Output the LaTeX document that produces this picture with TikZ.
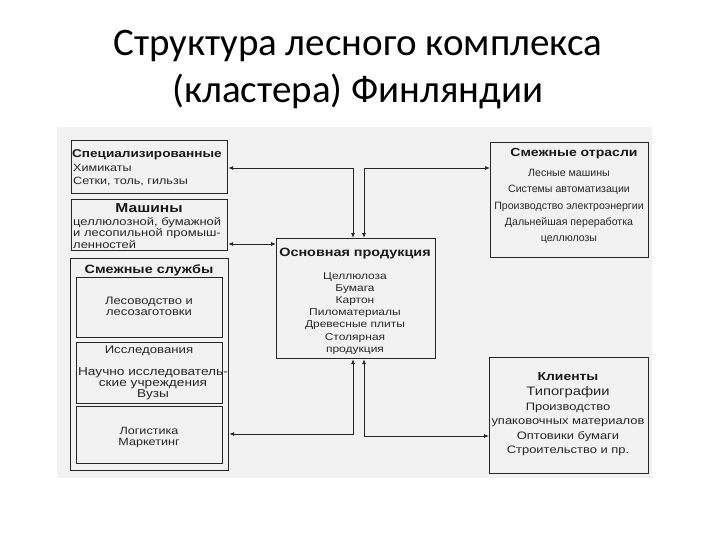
\documentclass[tikz,border=0pt]{standalone}
\usepackage{fontspec}
\setmainfont{Liberation Sans}
\newfontfamily\titlefont{Carlito}
\newfontfamily\scanfont[FakeStretch=1.2]{Liberation Sans}
\usetikzlibrary{arrows.meta}

\begin{document}
\begin{tikzpicture}[x=1pt,y=-1pt,
  box/.style={draw=black!85,line width=1.2pt,inner sep=0pt,anchor=north west},
  txt/.style={inner sep=0pt,text=black!85,align=center,font=\scanfont\fontsize{10.5}{12}\selectfont},
  hd/.style={inner sep=0pt,text=black!90,font=\scanfont\bfseries\fontsize{12}{13}\selectfont},
  link/.style={draw=black!85,line width=0.8pt,{Latex[length=5pt,width=4pt]}-{Latex[length=5pt,width=4pt]}}]
\useasboundingbox (0,0) rectangle (720,540);

% title
\node[font=\titlefont\fontsize{39}{46}\selectfont,anchor=base] (title1) at (358,56) {Структура лесного комплекса};
\node[font=\titlefont\fontsize{39}{46}\selectfont,anchor=base] (title2) at (358,103) {(кластера) Финляндии};

% scanned sheet
\fill[black!5] (57,127) rectangle (652,478);

% boxes
\node[box,minimum width=156pt,minimum height=53pt] (spec) at (71,140) {};
\node[box,minimum width=156pt,minimum height=51pt] (mach) at (71,199) {};
\node[box,minimum width=158pt,minimum height=212pt] (serv) at (70,258) {};
\node[box,minimum width=146pt,minimum height=60pt] (forest) at (76,277) {};
\node[box,minimum width=146pt,minimum height=61pt] (research) at (76,342) {};
\node[box,minimum width=146pt,minimum height=57pt] (logist) at (76,406) {};
\node[box,minimum width=159pt,minimum height=120pt] (prod) at (276,238) {};
\node[box,minimum width=158pt,minimum height=115pt] (adjind) at (490,142) {};
\node[box,minimum width=159pt,minimum height=116pt] (clients) at (489,357) {};

% texts
\node[hd,font=\scanfont\bfseries\fontsize{11.3}{13}\selectfont,anchor=base west] (specT) at (72,158) {Специализированные};
\node[txt,align=left,anchor=north west,font=\scanfont\fontsize{10.5}{13}\selectfont] (specL) at (73,164) {Химикаты\\Сетки, толь, гильзы};
\node[hd,font=\scanfont\bfseries\fontsize{13}{14}\selectfont,anchor=base] (machT) at (149,213) {Машины};
\node[txt,align=left,anchor=north west,font=\scanfont\fontsize{10.8}{11.6}\selectfont] (machL) at (73,217) {целлюлозной, бумажной\\и лесопильной промыш-\\ленностей};
\node[hd,anchor=base] (servT) at (149,273) {Смежные службы};
\node[txt,anchor=north,font=\scanfont\fontsize{10.8}{11}\selectfont] (forestL) at (149,297) {Лесоводство и\\лесозаготовки};
\node[txt,anchor=base,font=\scanfont\fontsize{11}{12}\selectfont] (researchT) at (149,353) {Исследования};
\node[txt,anchor=north,font=\scanfont\fontsize{11.4}{11}\selectfont] (researchL) at (153,367) {Научно исследователь-\\ские учреждения\\Вузы};
\node[txt,anchor=north,font=\scanfont\fontsize{10.5}{11}\selectfont] (logistL) at (149,427) {Логистика\\Маркетинг};
\node[hd,anchor=base] (prodT) at (355,256) {Основная продукция};
\node[txt,anchor=north,font=\scanfont\fontsize{10}{12.2}\selectfont] (prodL) at (355,272) {Целлюлоза\\Бумага\\Картон\\Пиломатериалы\\Древесные плиты\\Столярная\\продукция};
\node[hd,font=\scanfont\bfseries\fontsize{11.7}{13}\selectfont,anchor=base] (adjindT) at (574,157) {Смежные отрасли};
\node[txt,anchor=north,font=\fontsize{10.6}{16.3}\selectfont] (adjindL) at (569,169) {Лесные машины\\Системы автоматизации\\Производство электроэнергии\\Дальнейшая переработка\\целлюлозы};
\node[hd,font=\scanfont\bfseries\fontsize{11.6}{13}\selectfont,anchor=base] (clientsT) at (568,380) {Клиенты};
\node[txt,anchor=base,font=\scanfont\fontsize{12.3}{13}\selectfont] (clientsA) at (568,395) {Типографии};
\node[txt,anchor=north,font=\scanfont\fontsize{10.8}{14.3}\selectfont] (clientsL) at (568,403) {Производство\\упаковочных материалов\\Оптовики бумаги\\Строительство и пр.};

% links
\coordinate (tl) at (353,168);
\coordinate (tr) at (364,168);
\coordinate (ml) at (250,244);
\coordinate (bl) at (353,434);
\coordinate (br) at (364,436);
\draw[link] (spec.east |- tl) -- (tl) -- (tl |- prod.north);
\draw[link] (adjind.west |- tr) -- (tr) -- (tr |- prod.north);
\draw[link] (mach.east |- ml) -- (prod.west |- ml);
\draw[link] (serv.east |- bl) -- (bl) -- (bl |- prod.south);
\draw[link] (clients.west |- br) -- (br) -- (br |- prod.south);
\end{tikzpicture}
\end{document}
